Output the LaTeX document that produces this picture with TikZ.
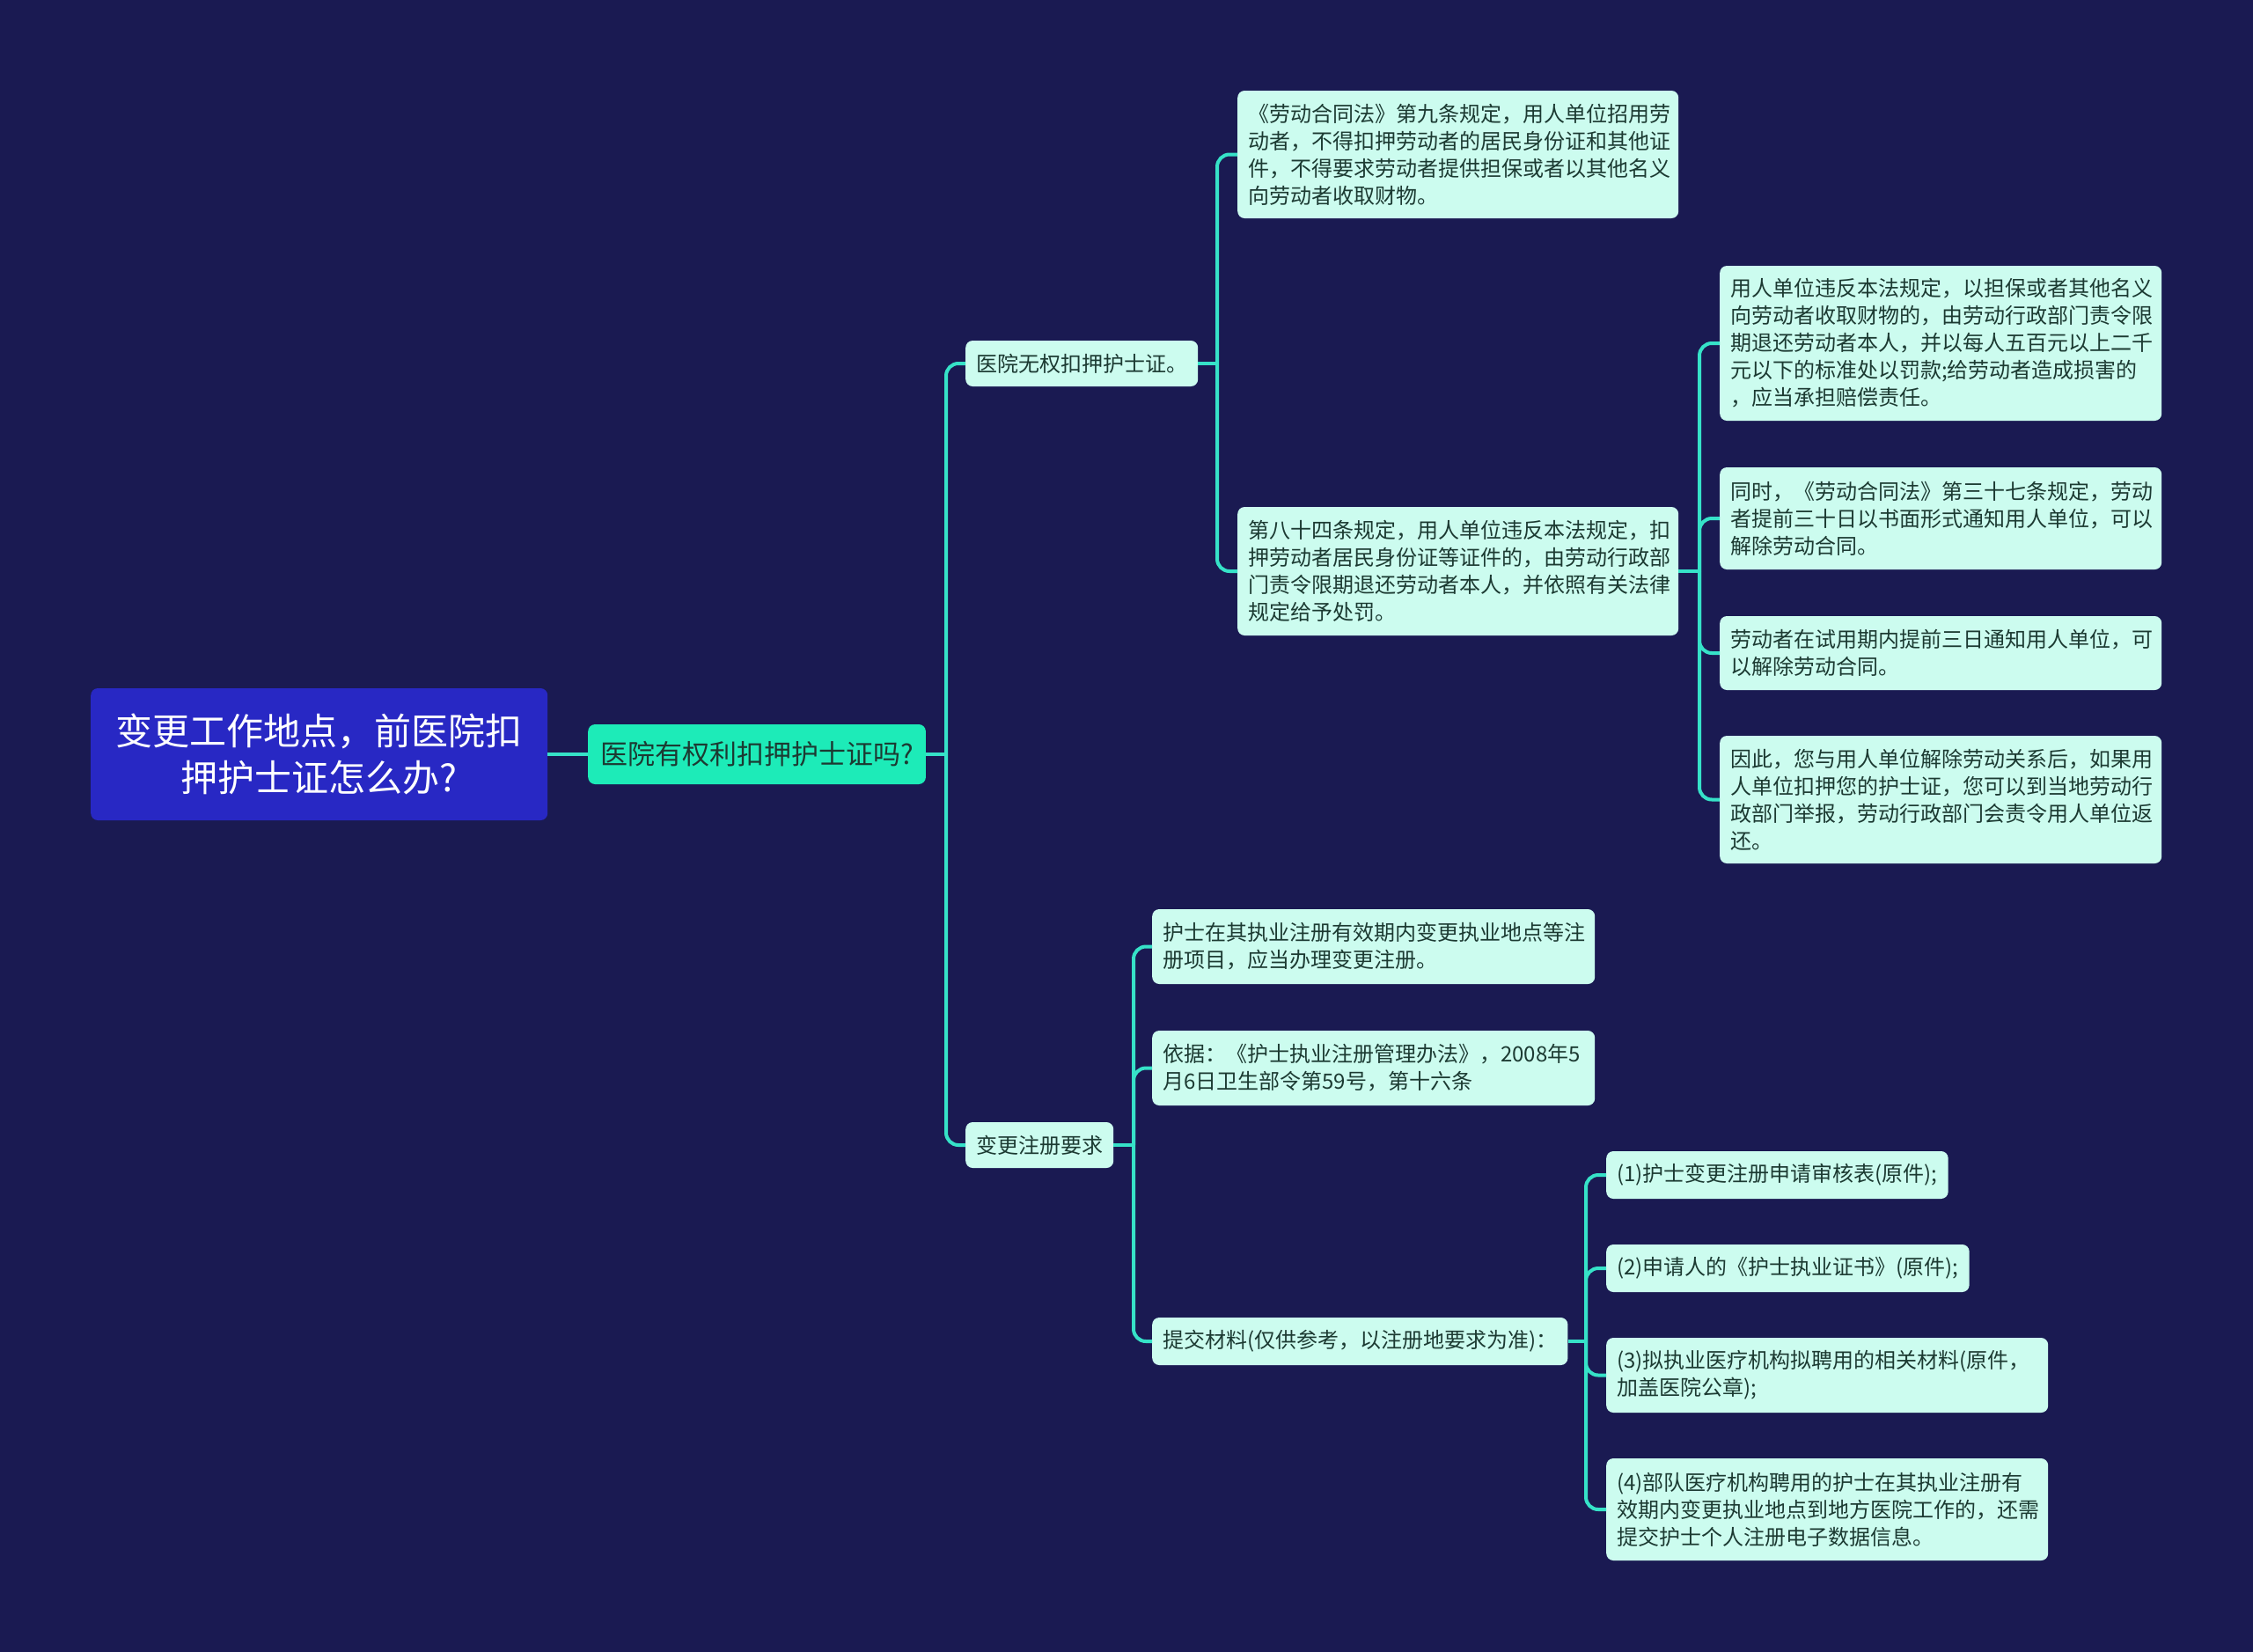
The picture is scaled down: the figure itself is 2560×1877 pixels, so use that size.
\documentclass[tikz,border=0pt]{standalone}
\usepackage{fontspec}
\setmainfont{Noto Sans CJK SC}
\definecolor{bg}{HTML}{1A1A52}
\definecolor{rootc}{HTML}{2828C4}
\definecolor{lone}{HTML}{1DEBB8}
\definecolor{leaf}{HTML}{CCFCEF}
\definecolor{txt}{HTML}{1C3A32}
\definecolor{linec}{HTML}{36E2C8}
\begin{document}
\begin{tikzpicture}[x=1pt,y=-1pt,
  box/.style={fill=leaf, rounded corners=8pt, text=txt, anchor=west, inner xsep=12pt, inner ysep=0pt,
    font=\fontsize{24}{31}\selectfont, align=left},
  conn/.style={draw=linec, line width=4pt},
  rc/.style={conn, rounded corners=14pt}]
\fill[bg] (0,0) rectangle (2560,1877);
\useasboundingbox (0,0) rectangle (2560,1877);

% root
\node[fill=rootc, rounded corners=8pt, text=white, anchor=west, minimum width=519pt, minimum height=150pt,
  inner sep=0pt, align=center, font=\fontsize{42}{53}\selectfont] (root) at (103,857)
  {变更工作地点，前医院扣\\押护士证怎么办?};

% level 1
\node[fill=lone, rounded corners=8pt, text=txt, anchor=west, minimum width=383pt, minimum height=68pt,
  inner xsep=14pt, inner ysep=0pt, font=\fontsize{31}{36}\selectfont] (l1) at (668,857) {医院有权利扣押护士证吗?};

% level 2
\node[box, minimum height=52pt] (a) at (1097,413) {医院无权扣押护士证。};
\node[box, minimum height=52pt] (b) at (1097,1301) {变更注册要求};

% under a
\node[box, text width=477pt, minimum height=145pt] (a1) at (1406,175.5)
  {《劳动合同法》第九条规定，用人单位招用劳\\动者，不得扣押劳动者的居民身份证和其他证\\件，不得要求劳动者提供担保或者以其他名义\\向劳动者收取财物。};
\node[box, text width=477pt, minimum height=146pt] (a2) at (1406,649)
  {第八十四条规定，用人单位违反本法规定，扣\\押劳动者居民身份证等证件的，由劳动行政部\\门责令限期退还劳动者本人，并依照有关法律\\规定给予处罚。};

% under a2
\node[box, text width=478pt, minimum height=176pt] (a2a) at (1954,390)
  {用人单位违反本法规定，以担保或者其他名义\\向劳动者收取财物的，由劳动行政部门责令限\\期退还劳动者本人，并以每人五百元以上二千\\元以下的标准处以罚款;给劳动者造成损害的\\，应当承担赔偿责任。};
\node[box, text width=478pt, minimum height=116pt] (a2b) at (1954,589)
  {同时，《劳动合同法》第三十七条规定，劳动\\者提前三十日以书面形式通知用人单位，可以\\解除劳动合同。};
\node[box, text width=478pt, minimum height=84pt] (a2c) at (1954,742)
  {劳动者在试用期内提前三日通知用人单位，可\\以解除劳动合同。};
\node[box, text width=478pt, minimum height=145pt] (a2d) at (1954,908.5)
  {因此，您与用人单位解除劳动关系后，如果用\\人单位扣押您的护士证，您可以到当地劳动行\\政部门举报，劳动行政部门会责令用人单位返\\还。};

% under b
\node[box, text width=479pt, minimum height=85pt] (b1) at (1309,1075.5)
  {护士在其执业注册有效期内变更执业地点等注\\册项目，应当办理变更注册。};
\node[box, text width=479pt, minimum height=85pt] (b2) at (1309,1213.5)
  {依据：《护士执业注册管理办法》，2008年5\\月6日卫生部令第59号，第十六条};
\node[box, minimum height=54pt] (b3) at (1309,1524)
  {提交材料(仅供参考，以注册地要求为准)：};

% under b3
\node[box, minimum height=54pt] (b3a) at (1825,1335) {(1)护士变更注册申请审核表(原件);};
\node[box, minimum height=54pt] (b3b) at (1825,1441) {(2)申请人的《护士执业证书》(原件);};
\node[box, text width=478pt, minimum height=85pt] (b3c) at (1825,1562.5)
  {(3)拟执业医疗机构拟聘用的相关材料(原件，\\加盖医院公章);};
\node[box, text width=478pt, minimum height=116pt] (b3d) at (1825,1715)
  {(4)部队医疗机构聘用的护士在其执业注册有\\效期内变更执业地点到地方医院工作的，还需\\提交护士个人注册电子数据信息。};

% connectors
\draw[conn] (root.east) -- (l1.west);

\coordinate (bl1) at (1075,857);
\draw[conn] (l1.east) -- (bl1);
\draw[rc] (bl1) |- (a.west);
\draw[rc] (bl1) |- (b.west);

\coordinate (ba) at (1383,413);
\draw[conn] (a.east) -- (ba);
\draw[rc] (ba) |- (a1.west);
\draw[rc] (ba) |- (a2.west);

\coordinate (ba2) at (1931,649);
\draw[conn] (a2.east) -- (ba2);
\draw[rc] (ba2) |- (a2a.west);
\draw[rc] (ba2) |- (a2b.west);
\draw[rc] (ba2) |- (a2c.west);
\draw[rc] (ba2) |- (a2d.west);

\coordinate (bb) at (1288,1301);
\draw[conn] (b.east) -- (bb);
\draw[rc] (bb) |- (b1.west);
\draw[rc] (bb) |- (b2.west);
\draw[rc] (bb) |- (b3.west);

\coordinate (bb3) at (1802,1524);
\draw[conn] (b3.east) -- (bb3);
\draw[rc] (bb3) |- (b3a.west);
\draw[rc] (bb3) |- (b3b.west);
\draw[rc] (bb3) |- (b3c.west);
\draw[rc] (bb3) |- (b3d.west);
\end{tikzpicture}
\end{document}
